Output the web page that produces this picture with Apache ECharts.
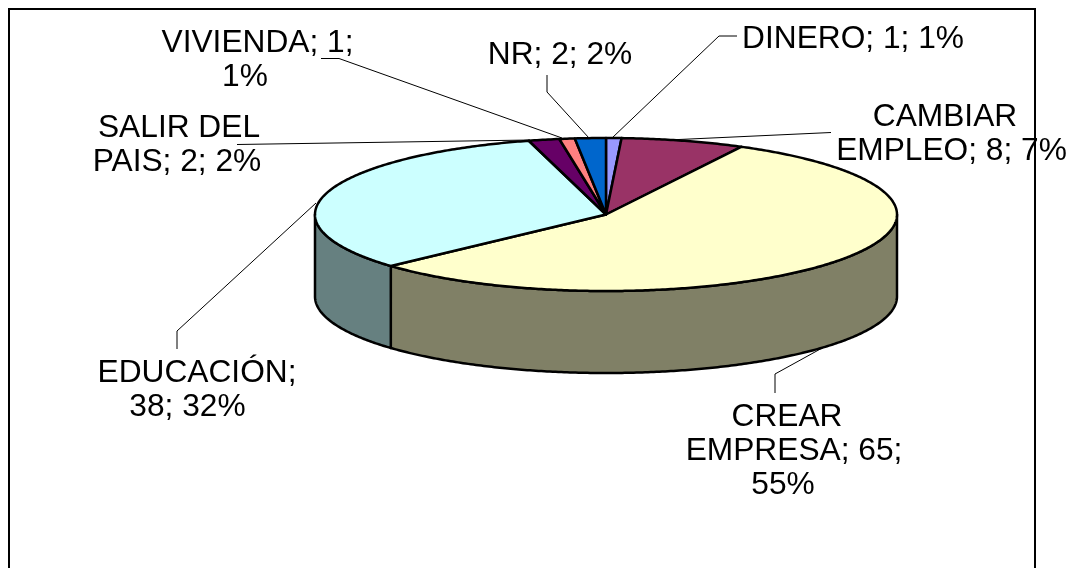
<!DOCTYPE html>
<html>
<head>
<meta charset="utf-8">
<style>html,body{margin:0;padding:0;background:#fff}#c{width:1077px;height:568px}</style>
<script src="https://cdn.jsdelivr.net/npm/echarts@6/dist/echarts.min.js"></script>
</head>
<body>
<div id="c"></div>
<script>
// Data
var categories = ['DINERO', 'CAMBIAR\nEMPLEO', 'CREAR\nEMPRESA', 'EDUCACIÓN', 'SALIR DEL\nPAIS', 'VIVIENDA', 'NR'];
var counts = [1, 8, 65, 38, 2, 1, 2];
var percents = [1, 7, 55, 32, 2, 1, 2];
// Separator printed after the name and after the count
var nameSeps = ['; ', '; ', '; ', ';\n', '; ', '; ', '; '];
var countSeps = ['; ', '; ', ';\n', '; ', '; ', ';\n', '; '];

// Styles
var topColors = ['#9999FF', '#993366', '#FFFFCC', '#CCFFFF', '#660066', '#FF8080', '#0066CC'];
var sideColors = ['#4D4D80', '#4D1A33', '#808066', '#668080', '#330033', '#804040', '#003366'];

// Layout
var CX = 606, CY = 214.5, RX = 291, RY = 76.5, DEPTH = 82;
var FONT_SIZE = 31.7;
var labelLines = [
  [[853, 39.5]],
  [[945, 117.5], [951.5, 151.5]],
  [[787, 417.5], [794, 451.5], [783, 485.5]],
  [[197, 373.5], [187.5, 407.5]],
  [[179, 128.5], [177, 162.5]],
  [[257.5, 43.5], [245, 77.5]],
  [[560, 55.5]]
];
var leaders = [
  [[737, 36], [719, 36], [612, 138]],
  [[831, 132.5], [668, 140]],
  [[775, 393], [775, 374], [824, 347]],
  [[177, 349], [177, 331], [316, 203]],
  [[237, 144.5], [530, 140]],
  [[321, 58.5], [339, 58.5], [562, 138]],
  [[547, 75], [547, 92], [589, 138]]
];

var total = counts.reduce(function (a, b) { return a + b; }, 0);
var starts = [];
counts.reduce(function (acc, v, i) { starts[i] = acc; return acc + v; }, 0);
function ang(v) { return v / total * Math.PI * 2; }
function pt(t, dy) { return [CX + RX * Math.sin(t), CY - RY * Math.cos(t) + (dy || 0)]; }
function arc(a, b, dy) {
  var n = Math.max(2, Math.ceil(Math.abs(b - a) / 0.01)), out = [];
  for (var k = 0; k <= n; k++) out.push(pt(a + (b - a) * k / n, dy));
  return out;
}
var seriesData = counts.map(function (v, i) {
  return { name: categories[i], value: [i, starts[i], v] };
});

function renderSide(params, api) {
  var i = api.value(0);
  var a = Math.max(ang(api.value(1)), Math.PI / 2);
  var b = Math.min(ang(api.value(1) + api.value(2)), Math.PI * 1.5);
  if (b <= a) return null;
  return {
    type: 'polygon',
    shape: { points: arc(a, b, 0).concat(arc(b, a, DEPTH)) },
    style: { fill: sideColors[i], stroke: '#000', lineWidth: 2.5, lineJoin: 'round' }
  };
}
function renderTop(params, api) {
  var i = api.value(0);
  var a = ang(api.value(1));
  var b = ang(api.value(1) + api.value(2));
  return {
    type: 'polygon',
    shape: { points: [[CX, CY]].concat(arc(a, b, 0)) },
    style: { fill: topColors[i], stroke: '#000', lineWidth: 2.5, lineJoin: 'round' }
  };
}

var graphics = [{
  type: 'rect', silent: true, z: 0,
  shape: { x: 9, y: 9, width: 1026, height: 620 },
  style: { fill: '#fff', stroke: '#000', lineWidth: 2 }
}];
leaders.forEach(function (pts) {
  graphics.push({
    type: 'polyline', silent: true, z: 5,
    shape: { points: pts },
    style: { fill: null, stroke: '#000', lineWidth: 1 }
  });
});
categories.forEach(function (name, i) {
  var text = name + nameSeps[i] + counts[i] + countSeps[i] + percents[i] + '%';
  text.split('\n').forEach(function (line, j) {
    var p = labelLines[i][j];
    graphics.push({
      type: 'text', silent: true, z: 10,
      x: p[0], y: p[1],
      style: {
        text: line, fill: '#000', align: 'center', verticalAlign: 'middle',
        font: FONT_SIZE + 'px "Liberation Sans", Arial, sans-serif'
      }
    });
  });
});

var chart = echarts.init(document.getElementById('c'), null, { renderer: 'canvas' });
chart.setOption({
  animation: false,
  backgroundColor: '#fff',
  graphic: { elements: graphics },
  series: [
    { type: 'custom', coordinateSystem: 'none', silent: true, z: 2, renderItem: renderSide, data: seriesData },
    { type: 'custom', coordinateSystem: 'none', silent: true, z: 3, renderItem: renderTop, data: seriesData }
  ]
});
</script>
</body>
</html>
